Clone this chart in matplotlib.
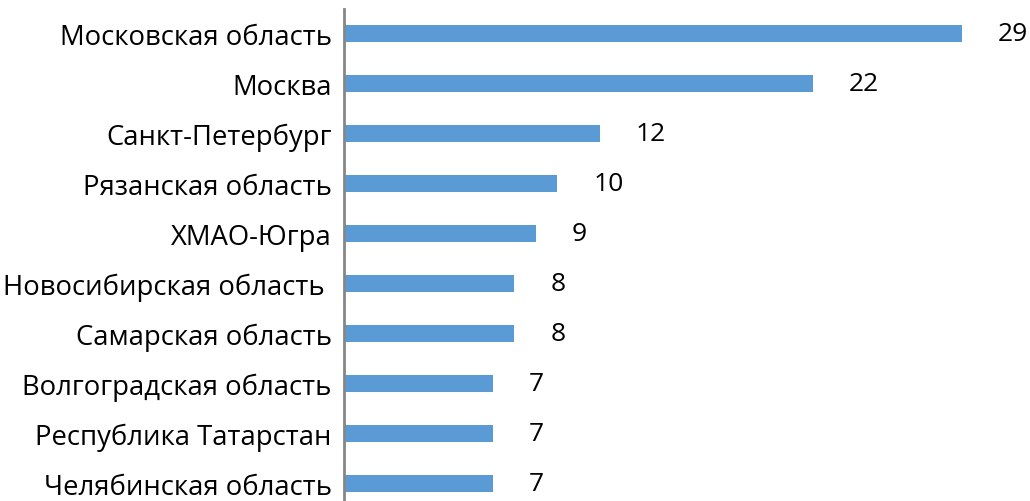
import matplotlib.pyplot as plt

# данные
regions = ['Московская область', 'Москва', 'Санкт-Петербург', 'Рязанская область',
           'ХМАО-Югра', 'Новосибирская область ', 'Самарская область',
           'Волгоградская область', 'Республика Татарстан', 'Челябинская область']
values = [29, 22, 12, 10, 9, 8, 8, 7, 7, 7]

plt.rcParams['font.family'] = ['Open Sans', 'DejaVu Sans']

fig = plt.figure(figsize=(10.30, 5.02), dpi=100)
ax = fig.add_axes([344/1030, 0, 1 - 344/1030, 1 - 10/502])

pos = list(range(len(values)))[::-1]  # первая категория сверху
ax.barh(pos, values, height=0.34, color='#5B9BD5')

for p, v in zip(pos, values):
    ax.annotate(str(v), (v, p), xytext=(26, 0), textcoords='offset points',
                va='center', ha='left', fontsize=19, color='black')

ax.set_xlim(0, 32.2)
ax.set_ylim(-0.36, 9.5)
ax.set_yticks(pos)
ax.set_yticklabels(regions, fontsize=19.8)
ax.tick_params(axis='y', length=0, pad=9)
ax.set_xticks([])
for s in ['top', 'right', 'bottom']:
    ax.spines[s].set_visible(False)
ax.spines['left'].set_color('#868686')
ax.spines['left'].set_linewidth(2)

fig.savefig('out.png', dpi=100)
